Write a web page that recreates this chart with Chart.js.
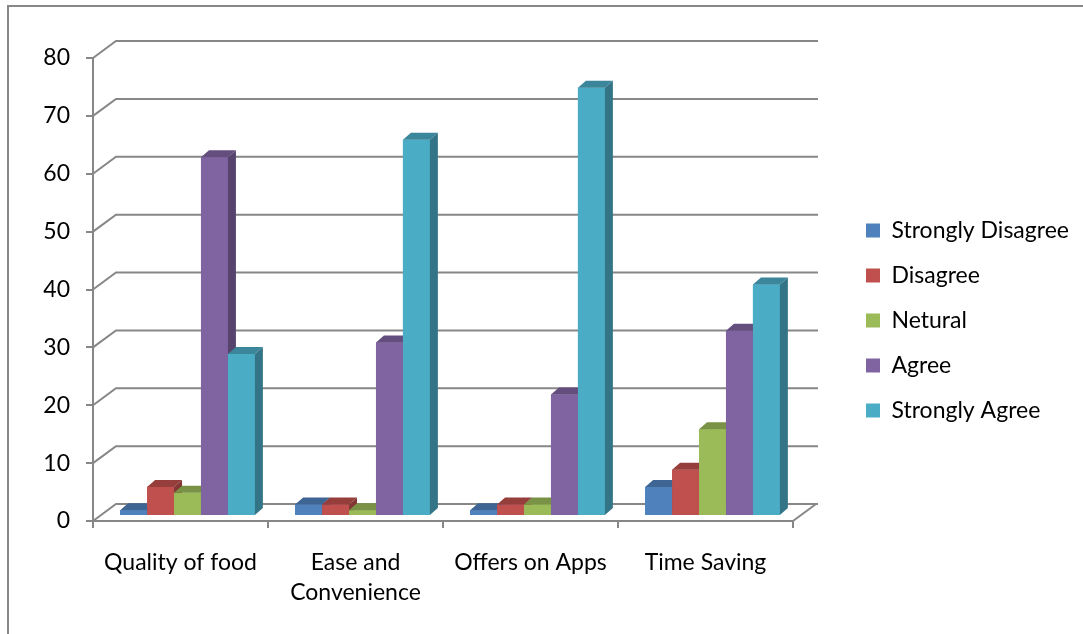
<!DOCTYPE html>
<html>
<head>
<meta charset="utf-8">
<script src="https://cdn.jsdelivr.net/npm/chart.js@4.4.1/dist/chart.umd.min.js"></script>
<style>
    html, body { margin: 0; padding: 0; background: #fff; }
    #wrap { width: 1083px; height: 634px; }
</style>
</head>
<body>
<div id="wrap"><canvas id="chart" width="1083" height="634"></canvas></div>
<script>
// Data
const categories = ['Quality of food', ['Ease and', 'Convenience'], 'Offers on Apps', 'Time Saving'];
const seriesNames = ['Strongly Disagree', 'Disagree', 'Netural', 'Agree', 'Strongly Agree'];
const stronglyDisagree = [1, 2, 1, 5];
const disagree = [5, 2, 2, 8];
const netural = [4, 1, 2, 15];
const agree = [62, 30, 21, 32];
const stronglyAgree = [28, 65, 74, 40];
const yTicks = [0, 10, 20, 30, 40, 50, 60, 70, 80];

const seriesValues = [stronglyDisagree, disagree, netural, agree, stronglyAgree];
const seriesColors = ['#4F81BD', '#C0504D', '#9BBB59', '#8064A2', '#4BACC6'];

const gridColor = '#878787';
const font = { family: 'Lato', size: 23 };

// 3D look: bar depth, back wall offset, bars sit a bit behind the front plane
const depthX = 8, depthY = 7;
const wallX = 23, wallY = 17;
const shiftX = 7, shiftY = 5;

function shade(hex, f) {
    const n = parseInt(hex.slice(1), 16);
    const r = Math.round(((n >> 16) & 255) * f);
    const g = Math.round(((n >> 8) & 255) * f);
    const b = Math.round((n & 255) * f);
    return `rgb(${r},${g},${b})`;
}

const threeD = {
    id: 'threeD',
    beforeDraw(chart) {
        // outer frame of the chart object
        const ctx = chart.ctx;
        ctx.save();
        ctx.strokeStyle = gridColor;
        ctx.lineWidth = 2;
        ctx.beginPath();
        ctx.moveTo(8, chart.height);
        ctx.lineTo(8, 6);
        ctx.lineTo(chart.width, 6);
        ctx.stroke();
        ctx.restore();
    },
    afterLayout(chart) {
        // move the legend to the right side, outside the plot
        const lg = chart.legend;
        lg.left = 844;
        lg.top = 197;
        lg.right = chart.width;
        lg.bottom = chart.height;
        lg.width = lg.right - lg.left;
        lg.height = lg.bottom - lg.top;
    },
    beforeDatasetsDraw(chart) {
        const { ctx, chartArea: a, scales: { y } } = chart;
        ctx.save();
        ctx.strokeStyle = gridColor;
        ctx.lineWidth = 2;
        y.ticks.forEach(t => {
            const py = y.getPixelForValue(t.value);
            ctx.beginPath();
            ctx.moveTo(a.left, py);
            ctx.lineTo(a.left + wallX, py - wallY);
            ctx.lineTo(a.right + wallX + 2, py - wallY);
            ctx.stroke();
        });
        ctx.beginPath();
        ctx.moveTo(a.right, a.bottom);
        ctx.lineTo(a.right + wallX, a.bottom - wallY);
        ctx.stroke();
        ctx.restore();

        ctx.save();
        ctx.translate(shiftX, -shiftY);
    },
    afterDatasetsDraw(chart) {
        const ctx = chart.ctx;
        // repaint the bars left to right so each front face hides the side of the one before
        for (let j = 0; j < chart.data.labels.length; j++) {
            chart.data.datasets.forEach((ds, i) => {
                const bar = chart.getDatasetMeta(i).data[j];
                const x0 = bar.x - bar.width / 2, x1 = bar.x + bar.width / 2;
                const top = bar.y, base = bar.base;
                const col = seriesColors[i];

                ctx.fillStyle = col;
                ctx.fillRect(x0, top, x1 - x0, base - top);

                ctx.fillStyle = shade(col, 0.78);
                ctx.beginPath();
                ctx.moveTo(x0, top);
                ctx.lineTo(x0 + depthX, top - depthY);
                ctx.lineTo(x1 + depthX, top - depthY);
                ctx.lineTo(x1, top);
                ctx.closePath();
                ctx.fill();

                ctx.fillStyle = shade(col, 0.68);
                ctx.beginPath();
                ctx.moveTo(x1, top);
                ctx.lineTo(x1 + depthX, top - depthY);
                ctx.lineTo(x1 + depthX, base - depthY);
                ctx.lineTo(x1, base);
                ctx.closePath();
                ctx.fill();
            });
        }
        ctx.restore();
    }
};

const ctx = document.getElementById('chart').getContext('2d');
new Chart(ctx, {
    type: 'bar',
    data: {
        labels: categories,
        datasets: seriesNames.map((name, i) => ({
            label: name,
            data: seriesValues[i],
            backgroundColor: seriesColors[i],
            borderWidth: 0,
            categoryPercentage: 0.77,
            barPercentage: 1.0
        }))
    },
    options: {
        responsive: false,
        animation: false,
        devicePixelRatio: 1,
        layout: { padding: { top: 58, right: 290, left: 0, bottom: 0 } },
        plugins: {
            tooltip: { enabled: false },
            title: { display: false },
            legend: {
                position: 'chartArea',
                align: 'start',
                labels: {
                    boxWidth: 14,
                    boxHeight: 14,
                    padding: 22,
                    color: '#000',
                    font: font
                }
            }
        },
        scales: {
            x: {
                grid: { drawOnChartArea: false, tickLength: 7, color: gridColor, lineWidth: 2 },
                border: { color: gridColor, width: 2 },
                ticks: { color: '#000', font: { ...font, lineHeight: 1.3 }, padding: 20, maxRotation: 0 },
                afterFit: s => { s.height = 113; }
            },
            y: {
                min: 0,
                max: 80,
                afterBuildTicks: s => { s.ticks = yTicks.map(v => ({ value: v })); },
                grid: { drawOnChartArea: false, tickLength: 7, color: gridColor, lineWidth: 2 },
                border: { color: gridColor, width: 2 },
                ticks: { color: '#000', font: font, padding: 16 },
                afterFit: s => { s.width = 93; }
            }
        }
    },
    plugins: [threeD]
});
</script>
</body>
</html>
